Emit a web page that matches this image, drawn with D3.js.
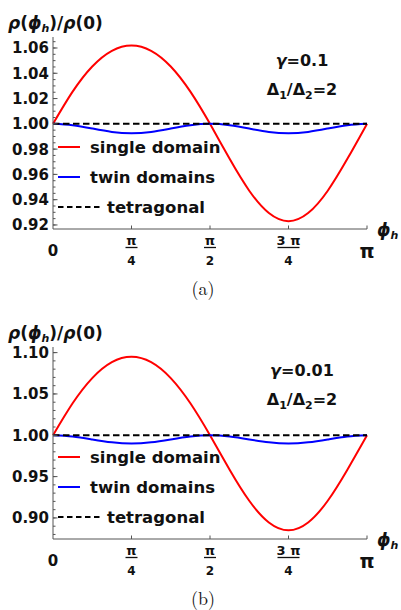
<!DOCTYPE html>
<html>
<head>
<meta charset="utf-8">
<script src="https://cdn.jsdelivr.net/npm/d3@7.9.0/dist/d3.min.js"></script>
<style>
  body { margin: 0; background: #fff; }
  svg { display: block; font-family: 'DejaVu Sans', sans-serif; }
  .bold { font-weight: bold; }
</style>
</head>
<body>
<div id="chart"></div>
<script>
// phi_h in units of pi, sampled every pi/16
const phiOverPi = [0, 0.0625, 0.125, 0.1875, 0.25, 0.3125, 0.375, 0.4375, 0.5,
  0.5625, 0.625, 0.6875, 0.75, 0.8125, 0.875, 0.9375, 1];

// panel (a): gamma = 0.1
const singleA = [1.000, 1.0255, 1.0454, 1.0578, 1.0620, 1.0578, 1.0454, 1.0255, 1.000,
  0.9723, 0.9471, 0.9294, 0.9230, 0.9294, 0.9471, 0.9723, 1.000];
const twinA = [1.000, 0.9989, 0.9963, 0.9936, 0.9925, 0.9936, 0.9963, 0.9989, 1.000,
  0.9989, 0.9963, 0.9936, 0.9925, 0.9936, 0.9963, 0.9989, 1.000];

// panel (b): gamma = 0.01
const singleB = [1.000, 1.0387, 1.0692, 1.0885, 1.0950, 1.0885, 1.0692, 1.0387, 1.000,
  0.9584, 0.9208, 0.8945, 0.8850, 0.8945, 0.9208, 0.9584, 1.000];
const twinB = [1.000, 0.9985, 0.9950, 0.9915, 0.9900, 0.9915, 0.9950, 0.9985, 1.000,
  0.9985, 0.9950, 0.9915, 0.9900, 0.9915, 0.9950, 0.9985, 1.000];

const tetragonal = [1, 1];
const tetragonalPhi = [0, 1];

const yTicksA = [0.92, 0.94, 0.96, 0.98, 1.00, 1.02, 1.04, 1.06];
const yTicksB = [0.90, 0.95, 1.00, 1.05, 1.10];
const xTicks = [0, 0.25, 0.5, 0.75, 1];
const xTickLabels = [['0'], ['π', '4'], ['π', '2'], ['3 π', '4'], ['π']];

const legendLabels = ['single domain', 'twin domains', 'tetragonal'];
const seriesColors = ['#ff0000', '#0000ff', '#000000'];

const width = 401;
const height = 610;

const svg = d3.select('#chart')
  .append('svg')
  .attr('width', width)
  .attr('height', height);

function drawPanel(cfg) {
  const g = svg.append('g').attr('transform', `translate(0, ${cfg.offset})`);
  const left = 53, right = 367, top = 37, bottom = 229;

  const x = d3.scaleLinear().domain([0, 1]).range([left, right]);
  const y = d3.scaleLinear().domain(cfg.yDomain).range([bottom, top]);

  const line = d3.line()
    .x((d) => x(d[0]))
    .y((d) => y(d[1]))
    .curve(d3.curveNatural);

  // curves
  g.append('path')
    .attr('d', line(d3.zip(phiOverPi, cfg.single)))
    .attr('fill', 'none')
    .attr('stroke', seriesColors[0])
    .attr('stroke-width', 2);

  g.append('path')
    .attr('d', line(d3.zip(phiOverPi, cfg.twin)))
    .attr('fill', 'none')
    .attr('stroke', seriesColors[1])
    .attr('stroke-width', 2);

  g.append('path')
    .attr('d', d3.line().x((d) => x(d[0])).y((d) => y(d[1]))(d3.zip(tetragonalPhi, tetragonal)))
    .attr('fill', 'none')
    .attr('stroke', seriesColors[2])
    .attr('stroke-width', 2)
    .attr('stroke-dasharray', '6.5,3.5');

  // axes (ticks point inward, like Mathematica)
  const axisColor = '#555';
  g.append('line')
    .attr('x1', left).attr('x2', left)
    .attr('y1', top).attr('y2', bottom)
    .attr('stroke', axisColor);
  g.append('line')
    .attr('x1', left).attr('x2', right)
    .attr('y1', bottom).attr('y2', bottom)
    .attr('stroke', axisColor);

  g.selectAll('.minor-y')
    .data(y.ticks(cfg.minorCount))
    .join('line')
    .attr('x1', left).attr('x2', left + 2.5)
    .attr('y1', (d) => y(d)).attr('y2', (d) => y(d))
    .attr('stroke', axisColor);

  g.selectAll('.major-y')
    .data(cfg.yTicks)
    .join('line')
    .attr('x1', left).attr('x2', left + 4.5)
    .attr('y1', (d) => y(d)).attr('y2', (d) => y(d))
    .attr('stroke', axisColor);

  g.selectAll('.ylabel')
    .data(cfg.yTicks)
    .join('text')
    .attr('class', 'bold')
    .attr('x', left - 4)
    .attr('y', (d) => y(d))
    .attr('dy', '0.36em')
    .attr('text-anchor', 'end')
    .attr('font-size', 15)
    .attr('fill', '#111')
    .text((d) => d3.format(cfg.fmt)(d));

  g.selectAll('.major-x')
    .data(xTicks.slice(1))
    .join('line')
    .attr('x1', (d) => x(d)).attr('x2', (d) => x(d))
    .attr('y1', bottom).attr('y2', bottom - 3.5)
    .attr('stroke', axisColor);

  xTicks.forEach((t, i) => {
    const lab = xTickLabels[i];
    if (lab.length === 1) {
      g.append('text')
        .attr('class', 'bold')
        .attr('x', x(t))
        .attr('y', bottom + (lab[0] === 'π' ? 29 : 27))
        .attr('text-anchor', 'middle')
        .attr('font-size', lab[0] === 'π' ? 19 : 15)
        .attr('fill', '#111')
        .text(lab[0]);
    } else {
      g.append('text')
        .attr('class', 'bold')
        .attr('x', x(t))
        .attr('y', bottom + 16)
        .attr('text-anchor', 'middle')
        .attr('font-size', 13)
        .attr('fill', '#111')
        .text(lab[0]);
      const w = lab[0].length > 1 ? 11 : 6;
      g.append('line')
        .attr('x1', x(t) - w).attr('x2', x(t) + w)
        .attr('y1', bottom + 18.5).attr('y2', bottom + 18.5)
        .attr('stroke', '#111')
        .attr('stroke-width', 1.3);
      g.append('text')
        .attr('class', 'bold')
        .attr('x', x(t))
        .attr('y', bottom + 36)
        .attr('text-anchor', 'middle')
        .attr('font-size', 12)
        .attr('fill', '#111')
        .text(lab[1]);
    }
  });

  // axis labels
  const yl = g.append('text')
    .attr('class', 'bold')
    .attr('x', 8)
    .attr('y', 29)
    .attr('font-size', 17)
    .attr('fill', '#111');
  yl.append('tspan').attr('font-style', 'italic').text('ρ');
  yl.append('tspan').text('(');
  yl.append('tspan').attr('font-style', 'italic').text('ϕ');
  yl.append('tspan').attr('font-size', 11).attr('dy', 3).attr('font-style', 'italic').text('h');
  yl.append('tspan').attr('dy', -3).text(')/');
  yl.append('tspan').attr('font-style', 'italic').text('ρ');
  yl.append('tspan').text('(0)');

  const xl = g.append('text')
    .attr('class', 'bold')
    .attr('x', 377)
    .attr('y', 236)
    .attr('font-size', 17)
    .attr('fill', '#111');
  xl.append('tspan').attr('font-style', 'italic').text('ϕ');
  xl.append('tspan').attr('font-size', 11).attr('dy', 3).attr('font-style', 'italic').text('h');

  // parameter annotation
  const a1 = g.append('text')
    .attr('class', 'bold')
    .attr('x', 302)
    .attr('y', 66)
    .attr('text-anchor', 'middle')
    .attr('font-size', 16)
    .attr('fill', '#111');
  a1.append('tspan').attr('font-style', 'italic').text('γ');
  a1.append('tspan').text('=' + cfg.gamma);

  const a2 = g.append('text')
    .attr('class', 'bold')
    .attr('x', 302)
    .attr('y', 95)
    .attr('text-anchor', 'middle')
    .attr('font-size', 16)
    .attr('fill', '#111');
  a2.append('tspan').text('Δ');
  a2.append('tspan').attr('font-size', 11).attr('dy', 4).text('1');
  a2.append('tspan').attr('dy', -4).text('/Δ');
  a2.append('tspan').attr('font-size', 11).attr('dy', 4).text('2');
  a2.append('tspan').attr('dy', -4).text('=2');

  // legend
  const legendY = [147, 177, 207];
  legendLabels.forEach((lab, i) => {
    const dashed = i === 2;
    g.append('line')
      .attr('x1', 58).attr('x2', dashed ? 100 : 80)
      .attr('y1', legendY[i]).attr('y2', legendY[i])
      .attr('stroke', seriesColors[i])
      .attr('stroke-width', 2)
      .attr('stroke-dasharray', dashed ? '5.5,3.5' : null);
    g.append('text')
      .attr('class', 'bold')
      .attr('x', dashed ? 107 : 90)
      .attr('y', legendY[i])
      .attr('dy', '0.36em')
      .attr('font-size', 16.5)
      .attr('fill', '#111')
      .text(lab);
  });

  // caption
  g.append('text')
    .attr('x', 203)
    .attr('y', 295)
    .attr('text-anchor', 'middle')
    .attr('font-family', "'Latin Modern Roman', 'DejaVu Serif', serif")
    .attr('font-size', 18)
    .attr('fill', '#111')
    .text(cfg.caption);
}

drawPanel({
  offset: 0,
  yDomain: [0.9168, 1.0687],
  single: singleA,
  twin: twinA,
  yTicks: yTicksA,
  minorCount: 30,
  fmt: '.2f',
  gamma: '0.1',
  caption: '(a)',
});

drawPanel({
  offset: 310,
  yDomain: [0.8745, 1.1068],
  single: singleB,
  twin: twinB,
  yTicks: yTicksB,
  minorCount: 20,
  fmt: '.2f',
  gamma: '0.01',
  caption: '(b)',
});
</script>
</body>
</html>
